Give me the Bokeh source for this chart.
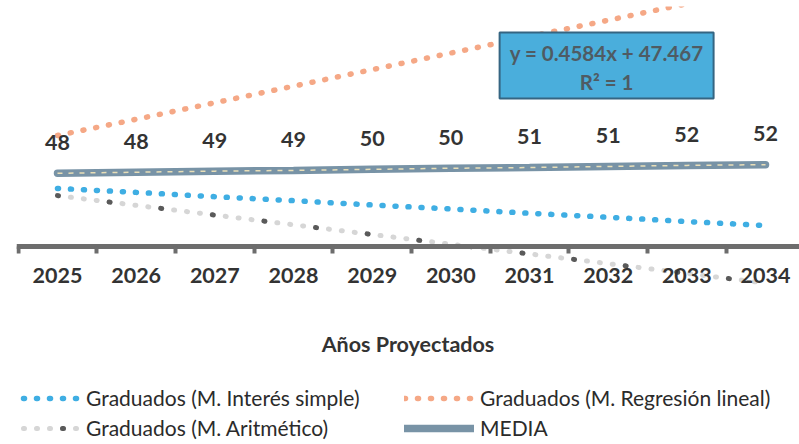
from bokeh.plotting import figure
from bokeh.models import Range1d, FixedTicker, Legend, LegendItem
from bokeh.core.properties import value
from bokeh.embed import file_html
from bokeh.resources import INLINE

# ---- data ----
years = ["2025", "2026", "2027", "2028", "2029", "2030", "2031", "2032", "2033", "2034"]
interes_simple = [46.46, 46.35, 46.23, 46.12, 46.00, 45.89, 45.77, 45.66, 45.54, 45.43]
regresion = [47.93, 48.38, 48.84, 49.30, 49.76, 50.22, 50.68, 51.13, 51.59, 52.05]
aritmetico = [46.26, 45.99, 45.72, 45.45, 45.18, 44.91, 44.64, 44.37, 44.10, 43.83]
media = [46.88, 46.91, 46.94, 46.96, 46.99, 47.02, 47.04, 47.07, 47.10, 47.12]
media_labels = ["48", "48", "49", "49", "50", "50", "51", "51", "52", "52"]
trend_text = ["y = 0.4584x + 47.467", "R² = 1"]

FONT = "Lato"
xs = list(range(len(years)))

p = figure(width=799, height=444, output_backend="svg", toolbar_location=None,
           x_range=Range1d(-0.521, 9.432), y_range=Range1d(39.347, 51.513),
           y_axis_location=None, min_border_left=16, min_border_right=0,
           min_border_top=6, min_border_bottom=0, outline_line_color=None)
p.grid.visible = False

# category axis crossing inside the plot
ax = p.xaxis[0]
ax.fixed_location = 44.85
ax.ticker = FixedTicker(ticks=xs, minor_ticks=[i - 0.5 for i in range(len(years) + 1)])
ax.major_label_overrides = {i: y for i, y in enumerate(years)}
ax.axis_line_color = "#6D6D6D"
ax.axis_line_width = 5
ax.major_tick_out = 0
ax.major_tick_in = 0
ax.minor_tick_out = 7
ax.minor_tick_in = 0
ax.minor_tick_line_width = 4
ax.minor_tick_line_color = "#6D6D6D"
ax.major_label_standoff = 15
ax.major_label_text_font = FONT
ax.major_label_text_font_size = "21.5px"
ax.major_label_text_font_style = "bold"
ax.major_label_text_color = "#333333"
ax.axis_label = "Años Proyectados"
ax.axis_label_standoff = 44
ax.axis_label_text_font = FONT
ax.axis_label_text_font_size = "21.5px"
ax.axis_label_text_font_style = "bold"
ax.axis_label_text_color = "#333333"

r_reg = p.line(xs, regresion, line_color="#F5A886", line_width=5.5,
               line_dash="1 12", line_cap="round")
r_int = p.line(xs, interes_simple, line_color="#3FAEE3", line_width=5.5,
               line_dash="1 12", line_cap="round")
r_ari_l = p.line(xs, aritmetico, line_color="#D6D6D6", line_width=5,
                 line_dash="1 12", line_cap="round")
r_ari_d = p.line(xs, aritmetico, line_color="#5A5A5A", line_width=5,
                 line_dash="1 51", line_cap="round")
r_med = p.line(xs, media, line_color="#7893A6", line_width=7.5, line_cap="round")
p.line(xs, media, line_color="#E9DFB8", line_width=1.5, line_dash="5 6")

# data labels above the MEDIA line
LIFT = 0.86
p.text(xs, [m + LIFT for m in media], text=media_labels, text_align="center",
       text_baseline="middle", text_font=value(FONT), text_font_size="21.5px",
       text_font_style="bold", text_color="#333333")

# trendline equation box
p.quad(left=[5.62], right=[8.34], top=[50.79], bottom=[48.96],
       fill_color="#4AAEDC", line_color="#356582", line_width=2)
p.text([6.98, 6.98], [50.21, 49.42], text=trend_text, text_align="center",
       text_baseline="middle", text_font=value(FONT), text_font_size="20.5px",
       text_font_style="bold", text_color="#4F5B63")

legend = Legend(items=[
    LegendItem(label="Graduados (M. Interés simple)", renderers=[r_int]),
    LegendItem(label="Graduados (M. Aritmético)", renderers=[r_ari_l, r_ari_d]),
    LegendItem(label="Graduados (M. Regresión lineal)", renderers=[r_reg]),
    LegendItem(label="MEDIA", renderers=[r_med]),
], location=(-6, 4), orientation="vertical", nrows=2,
    glyph_width=70, glyph_height=24, label_height=24, label_width=313,
    label_standoff=6, spacing=5, padding=0, margin=0,
    border_line_color=None, background_fill_alpha=0,
    label_text_font=FONT, label_text_font_size="21px", label_text_color="#2B2B2B")
p.add_layout(legend)

open("out.html", "w").write(file_html(p, INLINE))
